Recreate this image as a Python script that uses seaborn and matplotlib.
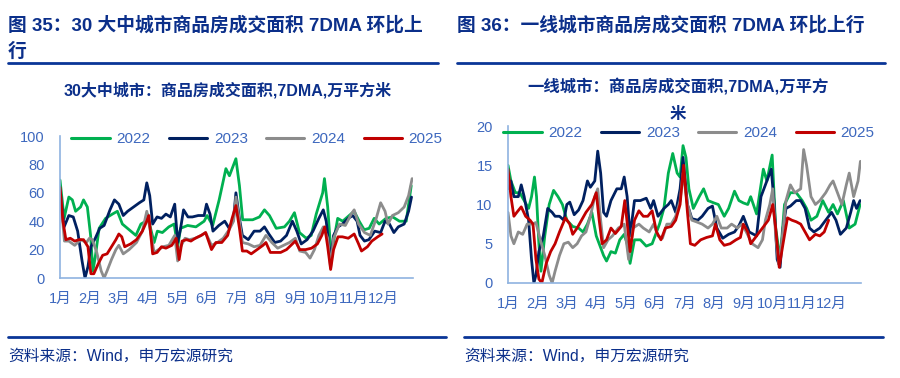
import pandas as pd
import matplotlib
matplotlib.use("Agg")
import matplotlib.pyplot as plt
from matplotlib.lines import Line2D
import seaborn as sns

# series names / colours
years = ["2022", "2023", "2024", "2025"]
colors = ["#00B050", "#002060", "#8C8C8C", "#C00000"]
month_labels = [f"{i}月" for i in range(1, 13)]

# 30 big/medium cities, 7DMA, (month position, value)
c30_2022 = [(0, 69), (0.14, 42), (0.3, 57), (0.42, 55), (0.53, 47), (0.7, 50), (0.8, 55), (0.93, 50),
            (1.04, 30), (1.12, 5), (1.2, 15), (1.33, 35), (1.55, 42), (1.78, 45), (1.95, 47), (2.12, 38),
            (2.35, 34), (2.58, 30), (2.75, 38), (2.92, 40), (2.97, 45), (3.09, 34), (3.2, 25), (3.31, 33),
            (3.48, 32), (3.7, 36), (3.88, 38), (4.0, 22), (4.1, 35), (4.34, 37), (4.62, 36), (4.9, 40),
            (5.0, 44), (5.19, 37), (5.41, 55), (5.64, 77), (5.76, 72), (5.87, 78), (5.98, 84), (6.1, 65),
            (6.21, 41), (6.55, 41), (6.78, 43), (6.95, 48), (7.12, 44), (7.35, 35), (7.63, 36), (7.8, 40),
            (7.97, 46), (8.14, 32), (8.37, 28), (8.54, 30), (8.71, 45), (8.93, 60), (8.99, 70), (9.1, 50),
            (9.22, 15), (9.27, 22), (9.44, 42), (9.61, 40), (9.83, 44), (10.0, 47), (10.17, 40), (10.34, 34),
            (10.51, 35), (10.68, 42), (10.85, 38), (11.08, 42), (11.31, 43), (11.54, 40), (11.77, 40), (11.94, 65)]
c30_2023 = [(0, 62), (0.14, 36), (0.3, 44), (0.45, 43), (0.6, 33), (0.75, 12), (0.85, 0), (0.95, 8),
            (1.05, 22), (1.2, 28), (1.35, 35), (1.5, 37), (1.7, 48), (1.85, 55), (2.0, 52), (2.15, 44),
            (2.3, 47), (2.5, 50), (2.7, 53), (2.85, 55), (2.95, 67), (3.05, 58), (3.15, 38), (3.3, 43),
            (3.45, 42), (3.6, 45), (3.75, 43), (3.9, 52), (4.0, 25), (4.1, 35), (4.2, 48), (4.35, 43),
            (4.5, 43), (4.7, 44), (4.9, 44), (4.98, 52), (5.1, 45), (5.2, 33), (5.4, 37), (5.6, 40),
            (5.75, 35), (5.9, 42), (5.98, 60), (6.1, 42), (6.2, 30), (6.4, 27), (6.6, 33), (6.8, 33),
            (6.95, 36), (7.1, 31), (7.3, 25), (7.5, 26), (7.7, 30), (7.9, 40), (8.05, 33), (8.2, 24),
            (8.4, 27), (8.6, 33), (8.8, 42), (8.95, 48), (9.05, 40), (9.2, 12), (9.3, 30), (9.45, 36),
            (9.6, 38), (9.8, 42), (9.95, 44), (10.1, 40), (10.2, 30), (10.35, 26), (10.5, 27), (10.7, 33),
            (10.9, 32), (11.05, 40), (11.2, 38), (11.35, 32), (11.5, 36), (11.7, 38), (11.85, 47), (11.95, 57)]
c30_2024 = [(0, 62), (0.15, 26), (0.3, 26), (0.5, 23), (0.7, 27), (0.9, 25), (1.0, 28), (1.1, 27),
            (1.25, 18), (1.4, 5), (1.5, 0), (1.6, 5), (1.75, 13), (1.9, 20), (2.0, 23), (2.15, 17),
            (2.35, 20), (2.6, 25), (2.8, 33), (2.95, 47), (3.1, 30), (3.2, 18), (3.35, 20), (3.5, 22),
            (3.7, 23), (3.9, 30), (4.0, 12), (4.1, 22), (4.25, 28), (4.4, 27), (4.6, 28), (4.8, 30),
            (4.95, 32), (5.15, 23), (5.35, 25), (5.55, 28), (5.75, 34), (5.9, 40), (5.98, 57), (6.1, 40),
            (6.2, 25), (6.4, 24), (6.6, 22), (6.8, 23), (7.0, 30), (7.2, 25), (7.4, 21), (7.6, 23),
            (7.8, 25), (8.0, 28), (8.15, 19), (8.35, 18), (8.5, 14), (8.65, 20), (8.8, 30), (8.95, 36),
            (9.1, 28), (9.2, 7), (9.3, 28), (9.5, 38), (9.7, 37), (9.9, 45), (10.0, 48), (10.15, 38),
            (10.35, 32), (10.55, 30), (10.75, 42), (10.9, 53), (11.05, 47), (11.15, 38), (11.3, 44),
            (11.5, 46), (11.7, 50), (11.85, 58), (11.97, 70)]
c30_2025 = [(0, 64), (0.1, 40), (0.2, 27), (0.35, 28), (0.5, 26), (0.65, 27), (0.8, 27), (0.95, 22),
            (1.05, 3), (1.15, 3), (1.3, 10), (1.45, 16), (1.6, 17), (1.75, 22), (1.9, 27), (2.0, 31),
            (2.1, 29), (2.2, 22), (2.4, 24), (2.6, 27), (2.8, 33), (2.95, 40), (3.02, 44), (3.15, 17),
            (3.3, 18), (3.45, 22), (3.6, 21), (3.8, 23), (3.95, 28), (4.05, 13), (4.15, 26), (4.3, 27),
            (4.45, 26), (4.6, 28), (4.8, 30), (4.95, 32), (5.05, 26), (5.15, 20), (5.3, 25), (5.5, 25),
            (5.7, 30), (5.85, 42), (5.98, 51), (6.1, 35), (6.2, 19), (6.35, 19), (6.5, 17), (6.7, 20),
            (6.9, 23), (7.0, 25), (7.15, 18), (7.3, 18), (7.5, 18), (7.7, 20), (7.9, 24), (8.0, 26),
            (8.15, 20), (8.35, 20), (8.55, 21), (8.75, 24), (8.9, 30), (9.0, 36), (9.1, 22), (9.2, 6),
            (9.3, 20), (9.45, 29), (9.6, 29), (9.8, 28), (10.0, 31), (10.15, 24), (10.25, 19), (10.45, 22),
            (10.6, 26), (10.8, 29), (10.95, 31)]

# tier-1 cities, 7DMA, (month position, value)
t1_2022 = [(0, 15), (0.1, 13), (0.25, 11.5), (0.4, 11.5), (0.55, 10.5), (0.7, 9.5), (0.8, 11), (0.9, 13.5),
           (0.97, 11), (1.05, 5), (1.12, 1.5), (1.25, 6), (1.4, 10), (1.55, 11.8), (1.7, 11), (1.85, 10),
           (2.0, 8), (2.2, 7.2), (2.4, 7), (2.55, 6.5), (2.7, 7.5), (2.85, 9), (3.0, 6), (3.1, 5),
           (3.25, 3.5), (3.35, 2.8), (3.5, 4), (3.65, 3.8), (3.8, 5.5), (3.95, 6.2), (4.05, 5), (4.15, 2.5),
           (4.3, 5.5), (4.5, 5.5), (4.7, 4.7), (4.9, 5), (5.0, 6), (5.15, 7.5), (5.3, 9.5), (5.45, 14),
           (5.6, 16.5), (5.75, 14), (5.85, 13.5), (5.95, 17.5), (6.05, 16), (6.15, 12), (6.3, 9.5),
           (6.5, 11), (6.65, 12), (6.8, 10.5), (7.0, 10.2), (7.15, 10), (7.35, 8.5), (7.5, 9.5),
           (7.7, 11.7), (7.85, 10.5), (8.0, 10.2), (8.15, 10), (8.25, 11), (8.45, 8.8), (8.68, 14.5),
           (8.8, 13), (8.98, 16.3), (9.1, 7), (9.25, 3), (9.4, 10), (9.6, 11.5), (9.8, 11.5), (10.0, 10.5),
           (10.15, 9.5), (10.3, 8), (10.5, 8.5), (10.7, 10.5), (10.9, 9), (11.05, 10), (11.2, 8.8),
           (11.4, 10.5), (11.6, 7), (11.8, 7.5), (11.97, 10)]
t1_2023 = [(0, 12), (0.1, 13), (0.2, 11), (0.35, 11), (0.45, 12.5), (0.55, 11), (0.7, 8), (0.8, 3),
           (0.88, 0), (0.95, 1), (1.05, 4), (1.2, 6), (1.35, 9.5), (1.5, 9), (1.6, 8.5), (1.75, 8.5),
           (1.9, 8), (2.0, 10), (2.1, 10.3), (2.25, 8.7), (2.4, 9.3), (2.55, 10.5), (2.7, 13), (2.8, 12.2),
           (2.95, 13), (3.05, 16.8), (3.15, 14), (3.25, 9), (3.35, 8.5), (3.5, 10.5), (3.7, 12), (3.85, 12),
           (3.95, 13.5), (4.05, 11), (4.15, 6), (4.3, 10.5), (4.5, 10.5), (4.7, 10.8), (4.85, 9.5),
           (4.95, 10.5), (5.1, 8.5), (5.3, 9.5), (5.45, 10), (5.55, 10.5), (5.7, 9), (5.85, 12), (5.95, 16),
           (6.1, 10), (6.25, 8.2), (6.45, 8), (6.6, 8.5), (6.8, 9.5), (6.95, 9.8), (7.1, 7), (7.3, 5.7),
           (7.5, 6.2), (7.7, 6.5), (7.85, 7.3), (8.0, 8.5), (8.2, 6.5), (8.45, 6), (8.6, 11), (8.75, 12.5),
           (8.85, 13.5), (8.95, 14.5), (9.05, 10), (9.15, 3), (9.25, 2), (9.35, 7), (9.45, 9.5),
           (9.6, 9.8), (9.8, 10.5), (9.95, 10.5), (10.1, 9.5), (10.25, 7), (10.4, 6.5), (10.6, 7),
           (10.8, 8), (11.0, 9), (11.15, 8), (11.3, 6.2), (11.5, 7), (11.65, 9), (11.75, 10.5),
           (11.85, 9.5), (11.97, 10.5)]
t1_2024 = [(0, 9), (0.1, 6), (0.2, 5), (0.35, 6.5), (0.5, 6.2), (0.65, 7.5), (0.8, 7.5), (0.95, 7.7),
           (1.1, 5.5), (1.25, 3.5), (1.4, 1), (1.5, 0), (1.6, 1.5), (1.75, 3.5), (1.9, 5), (2.05, 5.2),
           (2.2, 4.5), (2.35, 5), (2.5, 6), (2.65, 6.5), (2.8, 8.5), (2.95, 11), (3.05, 12), (3.15, 8),
           (3.25, 4.5), (3.4, 5.5), (3.55, 6), (3.75, 7), (3.95, 7.5), (4.1, 3), (4.25, 7), (4.45, 7.5),
           (4.6, 7), (4.8, 6.5), (4.95, 7.5), (5.1, 6), (5.25, 5.7), (5.4, 7.5), (5.55, 7.5), (5.7, 8.5),
           (5.85, 10.5), (5.95, 14), (6.1, 10), (6.25, 8), (6.4, 7.8), (6.6, 7.5), (6.8, 7), (6.95, 7.5),
           (7.1, 8.5), (7.25, 7), (7.45, 7), (7.6, 7.5), (7.8, 7), (7.95, 7.5), (8.1, 6.5), (8.3, 5),
           (8.5, 4.5), (8.65, 5.5), (8.75, 8), (8.9, 10), (9.0, 12), (9.1, 6), (9.2, 2.5), (9.3, 5),
           (9.45, 10.5), (9.6, 12.5), (9.75, 11.5), (9.95, 12), (10.05, 17), (10.15, 15), (10.3, 11),
           (10.45, 10), (10.6, 10.5), (10.8, 11.5), (10.95, 12.5), (11.05, 13), (11.2, 11.5), (11.35, 10),
           (11.5, 12.5), (11.6, 14), (11.75, 11), (11.9, 13), (11.98, 15.5)]
t1_2025 = [(0, 14.5), (0.1, 11), (0.2, 8.5), (0.3, 9), (0.45, 9.7), (0.6, 8.5), (0.75, 8), (0.85, 7.5),
           (0.95, 3), (1.05, 0.5), (1.15, 0), (1.3, 2.5), (1.45, 4), (1.6, 5), (1.75, 6.5), (1.95, 8.3),
           (2.1, 7.5), (2.2, 6.2), (2.35, 7), (2.5, 8), (2.65, 9), (2.85, 10), (3.0, 11.5), (3.1, 8),
           (3.2, 5), (3.35, 5.5), (3.5, 7), (3.65, 6.3), (3.85, 7.2), (3.97, 10.5), (4.07, 7), (4.15, 4),
           (4.3, 8), (4.45, 9.2), (4.6, 8.5), (4.75, 8.5), (4.9, 9.2), (5.05, 6.5), (5.2, 5.5), (5.35, 7),
           (5.55, 7.2), (5.7, 8), (5.85, 10), (5.97, 15), (6.1, 9), (6.2, 5), (6.35, 4.8), (6.55, 5.5),
           (6.75, 5.8), (6.95, 6), (7.05, 7.5), (7.2, 5.5), (7.35, 4.8), (7.55, 5), (7.75, 5.5),
           (7.9, 5.8), (8.0, 7.5), (8.15, 6.5), (8.25, 5), (8.45, 6), (8.65, 7), (8.85, 8), (9.0, 10),
           (9.1, 7), (9.22, 2), (9.35, 5), (9.5, 8.3), (9.65, 8), (9.8, 7.8), (9.95, 7.5), (10.1, 6.5),
           (10.25, 5.5), (10.45, 6.2), (10.6, 6), (10.75, 6.5), (10.9, 8)]

NAVY = "#0B2F8A"
TICK = "#3D68BE"
SPINE = "#8FB3E0"

sns.set_style("white")
plt.rcParams["font.family"] = ["Liberation Sans", "Noto Sans CJK SC", "DejaVu Sans"]


def to_frame(series):
    rows = []
    for yr, pts in zip(years, series):
        for m, v in pts:
            rows.append({"m": m, "v": v, "year": yr})
    return pd.DataFrame(rows)


def draw_panel(ax, series, ymax, ystep, leg_xy, fig):
    df = to_frame(series)
    sns.lineplot(data=df, x="m", y="v", hue="year", hue_order=years,
                 palette=dict(zip(years, colors)), estimator=None, sort=False,
                 linewidth=2.0, legend=False, ax=ax)
    ax.set_xlim(0, 12)
    ax.set_ylim(0, ymax)
    ax.set_xticks(range(13))
    ax.set_xticklabels(month_labels + [""])
    ax.set_yticks(range(0, ymax + 1, ystep))
    ax.set_xlabel("")
    ax.set_ylabel("")
    for s in ["top", "right"]:
        ax.spines[s].set_visible(False)
    for s in ["left", "bottom"]:
        ax.spines[s].set_color(SPINE)
        ax.spines[s].set_linewidth(1.2)
    ax.tick_params(axis="both", colors=SPINE, labelcolor=TICK, labelsize=10.5,
                   direction="out", length=3, width=1)
    ax.tick_params(axis="x", pad=7)
    ax.tick_params(axis="y", pad=8)
    handles = [Line2D([], [], color=c, lw=2.2) for c in colors]
    ax.legend(handles, years, ncol=4, frameon=False, loc="center",
              bbox_to_anchor=leg_xy, bbox_transform=fig.transFigure,
              fontsize=11, labelcolor=TICK, handlelength=2.5,
              handletextpad=0.45, columnspacing=1.2)


W, H = 900, 378
fig = plt.figure(figsize=(9, 3.78), dpi=100)

ax1 = fig.add_axes([60 / W, 1 - 278 / H, 353 / W, 142 / H])
draw_panel(ax1, [c30_2022, c30_2023, c30_2024, c30_2025], 100, 20, (257 / W, 1 - 139 / H), fig)

ax2 = fig.add_axes([508 / W, 1 - 283 / H, 353 / W, 157 / H])
draw_panel(ax2, [t1_2022, t1_2023, t1_2024, t1_2025], 20, 5, (689 / W, 1 - 133 / H), fig)

# headings
fig.text(8 / W, 1 - 25 / H, "图 35：30 大中城市商品房成交面积 7DMA 环比上", color=NAVY,
         fontsize=13.5, fontweight="bold", va="center", ha="left")
fig.text(8 / W, 1 - 52 / H, "行", color=NAVY, fontsize=13.5, fontweight="bold", va="center", ha="left")
fig.text(457 / W, 1 - 25 / H, "图 36：一线城市商品房成交面积 7DMA 环比上行", color=NAVY,
         fontsize=13.5, fontweight="bold", va="center", ha="left")

fig.add_artist(Line2D([8 / W, 438 / W], [1 - 63 / H] * 2, color="#0A3597", lw=2))
fig.add_artist(Line2D([457 / W, 885 / W], [1 - 63 / H] * 2, color="#0A3597", lw=2))

fig.text(228 / W, 1 - 90 / H, "30大中城市：商品房成交面积,7DMA,万平方米", color=NAVY,
         fontsize=11.5, fontweight="bold", va="center", ha="center")
fig.text(678 / W, 1 - 87 / H, "一线城市：商品房成交面积,7DMA,万平方", color=NAVY,
         fontsize=11.8, fontweight="bold", va="center", ha="center")
fig.text(678 / W, 1 - 114 / H, "米", color=NAVY,
         fontsize=11.8, fontweight="bold", va="center", ha="center")

# footers
fig.add_artist(Line2D([8 / W, 446 / W], [1 - 337 / H] * 2, color="#0A3597", lw=2))
fig.add_artist(Line2D([464 / W, 883 / W], [1 - 337 / H] * 2, color="#0A3597", lw=2))
fig.text(8 / W, 1 - 356 / H, "资料来源：Wind，申万宏源研究", color=NAVY, fontsize=11.3,
         va="center", ha="left")
fig.text(464 / W, 1 - 356 / H, "资料来源：Wind，申万宏源研究", color=NAVY, fontsize=11.3,
         va="center", ha="left")

fig.savefig("out.png", dpi=100)
